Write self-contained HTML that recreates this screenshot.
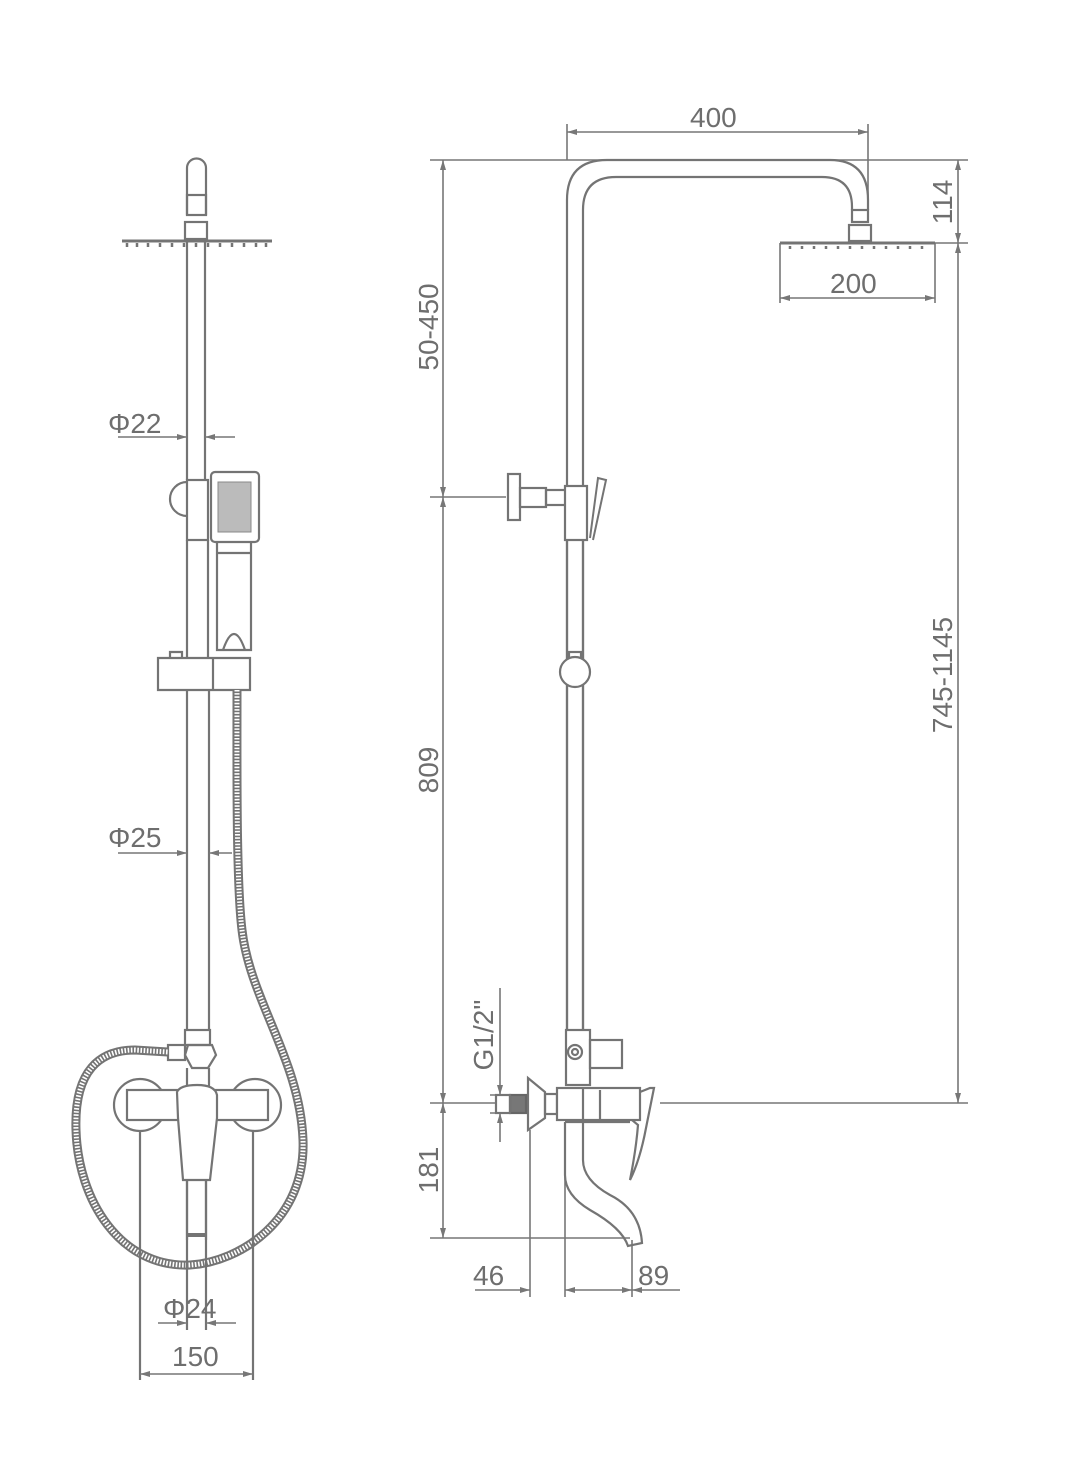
<!DOCTYPE html>
<html><head><meta charset="utf-8"><style>
html,body{margin:0;padding:0;background:#fff}
svg{display:block}
text{font-family:"Liberation Sans",sans-serif;fill:#6e6e6e;font-size:28px}
</style></head><body>
<svg width="1076" height="1482" viewBox="0 0 1076 1482" xmlns="http://www.w3.org/2000/svg">
<defs>
<marker id="a" viewBox="0 0 10 6" refX="10" refY="3" markerWidth="10" markerHeight="6" orient="auto-start-reverse" markerUnits="userSpaceOnUse">
<path d="M0,0 L10,3 L0,6 z" fill="#777"/></marker>
</defs>
<g fill="none" stroke="#747474" stroke-width="2.2">
<path d="M187,215 V168 A9.5,9.5 0 0 1 206,168 V215"/>
<rect x="187" y="195" width="19" height="20"/>
<rect x="185" y="222" width="22" height="17"/>
<path d="M122,241 H272" stroke-width="3"/>
<path d="M127,243 v4 M137,243 v4 M148,243 v4 M160,243 v4 M172,243 v4 M184,243 v4 M196,243 v4 M208,243 v4 M220,243 v4 M232,243 v4 M244,243 v4 M256,243 v4 M266,243 v4" stroke-width="2.5"/>
<path d="M187,241 V480 M205,241 V480"/>
<path d="M187,482 A17,17 0 0 0 187,516"/>
<rect x="187" y="480" width="21" height="60"/>
<rect x="211" y="472" width="48" height="70" rx="4"/>
<rect x="218" y="482" width="33" height="50" fill="#bbb" stroke="#888" stroke-width="1"/>
<path d="M217,542 V650 H251 V542 M217,553 H251"/>
<path d="M223,650 Q234,618 245,650"/>
<path d="M187,540 V658 M208,540 V658"/>
<path d="M158,658 H250 V690 H158 Z M170,658 V652 H182 V658 M213,658 V690"/>
<path d="M187,690 V1030 M209,690 V1030"/>
<rect x="185" y="1030" width="25" height="15"/>
<path d="M188,1045 L212,1045 L216,1055 L208,1068 L192,1068 L185,1055 Z"/>
<rect x="168" y="1045" width="17" height="15"/>
<path d="M187,1068 V1088 M209,1068 V1088"/>
<circle cx="140" cy="1105" r="26"/>
<circle cx="255" cy="1105" r="26"/>
<rect x="127" y="1090" width="141" height="30" fill="#fff"/>
<path d="M177,1092 Q180,1085 197,1085 Q215,1085 217,1095 V1118 L210,1180 H183 L178,1118 Z" fill="#fff"/>
<path d="M187,1180 V1240 M206,1180 V1240"/>
<path d="M187,1235 H206" stroke-width="4"/>
<path id="h" d="M237,690 C237,760 236,880 242,930 C250,1000 300,1060 303,1140 C306,1220 240,1262 190,1265 C120,1268 78,1200 76,1130 C74,1070 100,1050 135,1050 L168,1052"/>
</g>
<use href="#h" stroke="#747474" stroke-width="9" fill="none"/>
<use href="#h" stroke="#fff" stroke-width="5" fill="none" stroke-dasharray="1.6 1.6"/>
<g fill="none" stroke="#747474" stroke-width="2.2">
<path d="M187,1180 V1240 M206,1180 V1240"/>
<path d="M140,1132 V1380 M253,1132 V1380"/>
<path d="M187,1240 V1330 M206,1240 V1330"/>
</g>
<g stroke="#777" stroke-width="1.6" fill="none">
<path d="M118,437 H187" marker-end="url(#a)"/>
<path d="M235,437 H205" marker-end="url(#a)"/>
<path d="M118,853 H187" marker-end="url(#a)"/>
<path d="M232,853 H209" marker-end="url(#a)"/>
<path d="M158,1323 H187" marker-end="url(#a)"/>
<path d="M236,1323 H206" marker-end="url(#a)"/>
<path d="M140,1374 H253" marker-start="url(#a)" marker-end="url(#a)"/>
<path d="M567,132 H868" marker-start="url(#a)" marker-end="url(#a)"/>
<path d="M567,124 V160 M868,124 V210"/>
<path d="M430,160 H968"/>
<path d="M935,243 H968"/>
<path d="M958,160 V243" marker-start="url(#a)" marker-end="url(#a)"/>
<path d="M958,243 V1103" marker-start="url(#a)" marker-end="url(#a)"/>
<path d="M780,298 H935" marker-start="url(#a)" marker-end="url(#a)"/>
<path d="M780,243 V303 M935,243 V303"/>
<path d="M443,160 V497" marker-start="url(#a)" marker-end="url(#a)"/>
<path d="M443,497 V1103" marker-start="url(#a)" marker-end="url(#a)"/>
<path d="M443,1103 V1238" marker-start="url(#a)" marker-end="url(#a)"/>
<path d="M430,497 H506 M430,1103 H497 M660,1103 H968 M430,1238 H630"/>
<path d="M500,988 V1095" marker-end="url(#a)"/>
<path d="M500,1142 V1113" marker-end="url(#a)"/>
<path d="M490,1095 H512 M490,1113 H512"/>
<path d="M530,1130 V1297 M565,1130 V1297 M632,1240 V1297"/>
<path d="M475,1290 H530" marker-end="url(#a)"/>
<path d="M565,1290 H632" marker-start="url(#a)" marker-end="url(#a)"/>
<path d="M680,1290 H632" marker-end="url(#a)"/>
</g>
<g fill="none" stroke="#747474" stroke-width="2.2">
<path d="M567,1030 V200 Q567,160 607,160 H830 Q868,160 868,200 V210"/>
<path d="M583,1030 V210 Q583,177 616,177 H822 Q852,177 852,207 V210"/>
<rect x="852" y="210" width="16" height="12"/>
<rect x="849" y="225" width="22" height="16"/>
<path d="M780,243 H935" stroke-width="3"/>
<path d="M790,246 v3 M802,246 v3 M814,246 v3 M826,246 v3 M838,246 v3 M850,246 v3 M862,246 v3 M874,246 v3 M886,246 v3 M898,246 v3 M910,246 v3 M922,246 v3" stroke-width="2.5"/>
<rect x="508" y="474" width="12" height="46"/>
<rect x="520" y="488" width="26" height="19"/>
<rect x="546" y="490" width="20" height="15"/>
<rect x="565" y="486" width="22" height="54" fill="#fff"/>
<path d="M590,538 L598,478 L606,480 L593,540" stroke-width="2"/>
<path d="M567,540 V1030 M583,540 V1030"/>
<rect x="569" y="652" width="12" height="7"/>
<circle cx="575" cy="672" r="15" fill="#fff"/>
<rect x="566" y="1030" width="24" height="55" fill="#fff"/>
<circle cx="575" cy="1052" r="7"/>
<circle cx="575" cy="1052" r="3"/>
<rect x="590" y="1040" width="32" height="28"/>
<path d="M528,1078 L545,1092 V1118 L528,1130 Z"/>
<rect x="545" y="1094" width="12" height="20"/>
<rect x="557" y="1088" width="83" height="32" fill="#fff"/>
<path d="M583,1088 V1120 M600,1090 V1120"/>
<path d="M640,1092 L650,1088 H654 L646,1128 Q640,1160 630,1180 Q636,1150 638,1125 L632,1120"/>
<path d="M565,1122 H630 M565,1122 V1175 Q565,1195 590,1210 Q622,1228 628,1246 L642,1243 Q640,1210 610,1195 Q583,1180 583,1160 V1122"/>
<rect x="510" y="1095" width="16" height="18" fill="#777" stroke="#666"/>
<rect x="496" y="1095" width="14" height="18"/>
</g>
<text x="108" y="433">Φ22</text>
<text x="108" y="847">Φ25</text>
<text x="163" y="1318">Φ24</text>
<text x="172" y="1366">150</text>
<text x="690" y="127">400</text>
<text x="830" y="293">200</text>
<text x="473" y="1285">46</text>
<text x="638" y="1285">89</text>
<text transform="translate(952,202) rotate(-90)" text-anchor="middle">114</text>
<text transform="translate(952,675) rotate(-90)" text-anchor="middle">745-1145</text>
<text transform="translate(438,327) rotate(-90)" text-anchor="middle">50-450</text>
<text transform="translate(438,770) rotate(-90)" text-anchor="middle">809</text>
<text transform="translate(438,1170) rotate(-90)" text-anchor="middle">181</text>
<text transform="translate(493,1035) rotate(-90)" text-anchor="middle">G1/2"</text>
</svg>
</body></html>
